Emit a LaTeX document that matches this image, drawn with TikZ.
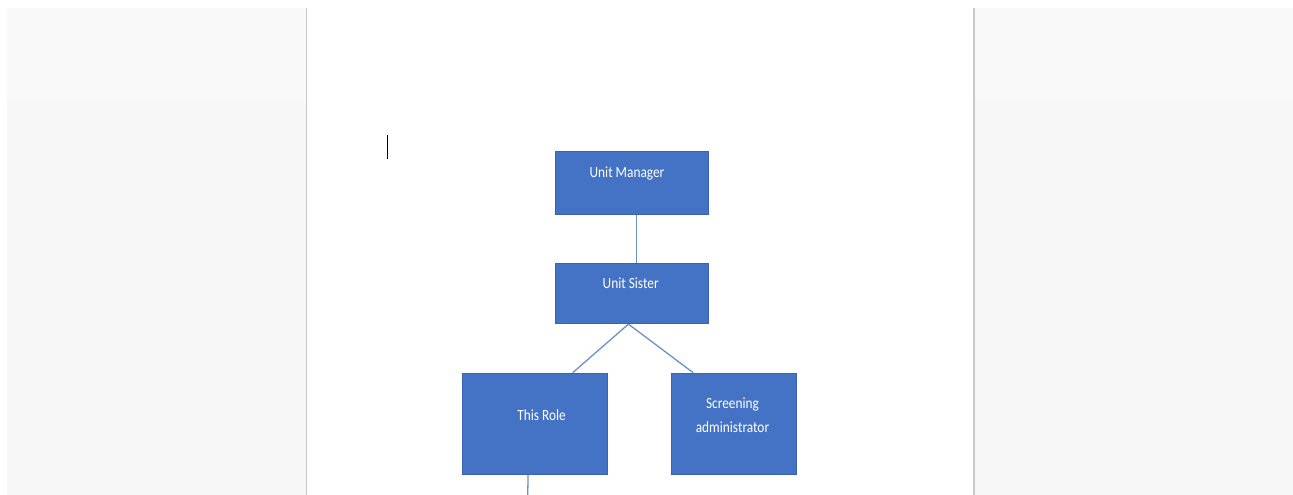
\documentclass[tikz,border=0pt]{standalone}
\usepackage{fontspec}
\setmainfont{Carlito}
\newfontfamily\boxfont{Carlito}[FakeStretch=0.86]
\usetikzlibrary{positioning}
\definecolor{boxblue}{HTML}{4472C4}
\definecolor{boxedge}{HTML}{3A64B0}
\definecolor{linkblue}{HTML}{6F8FC8}
\definecolor{panel}{HTML}{F7F7F7}
\definecolor{paneltop}{HTML}{F9F9F9}
\definecolor{pageedge}{HTML}{C9C9C9}
\tikzset{
  orgbox/.style={draw=boxedge, line width=0.8pt, fill=boxblue, inner sep=0pt, anchor=north west},
  boxtext/.style={text=white, font=\boxfont\fontsize{15.5}{24}\selectfont, align=center, inner sep=0pt},
  link/.style={draw=linkblue, line width=1.3pt},
}
\begin{document}
\begin{tikzpicture}[x=1pt,y=-1pt]
\useasboundingbox (0,0) rectangle (1293,495);
\fill[white] (0,0) rectangle (1293,495);
% side panels
\fill[panel] (7,8) rectangle (306,495);
\fill[panel] (974,8) rectangle (1293,495);
\fill[paneltop] (7,8) rectangle (306,100);
\fill[paneltop] (974,8) rectangle (1293,100);
\draw[pageedge, line width=1.5pt] (306.5,8) -- (306.5,495);
\draw[pageedge, line width=2pt] (974,8) -- (974,495);
% text cursor
\draw[black, line width=1.2pt] (387.5,135) -- (387.5,159);
% boxes
\node[orgbox, minimum width=152.7pt, minimum height=63pt] (um) at (555,151) {};
\node[orgbox, minimum width=152.7pt, minimum height=60pt] (us) at (555,263.3) {};
\node[orgbox, minimum width=144.4pt, minimum height=101.3pt] (tr) at (462.3,372.7) {};
\node[orgbox, minimum width=124.7pt, minimum height=101.3pt] (sa) at (671,372.7) {};
% texts
\node[boxtext] (umt) at (627,173) {Unit Manager};
\node[boxtext] (ust) at (630.7,283) {Unit Sister};
\node[boxtext] (trt) at (541.5,415) {This Role};
\node[boxtext] (sat) at (732.5,415) {Screening\\administrator};
% connectors
\coordinate (down) at (527.7,495);
\draw[link] ([xshift=4.7pt]um.south) -- ([xshift=4.7pt]us.north);
\draw[link] ([xshift=-3.3pt]us.south) -- ([xshift=37.8pt]tr.north);
\draw[link] ([xshift=-3.3pt]us.south) -- ([xshift=-40.6pt]sa.north);
\draw[link] ([xshift=-6.8pt]tr.south) -- (down);
\end{tikzpicture}
\end{document}
